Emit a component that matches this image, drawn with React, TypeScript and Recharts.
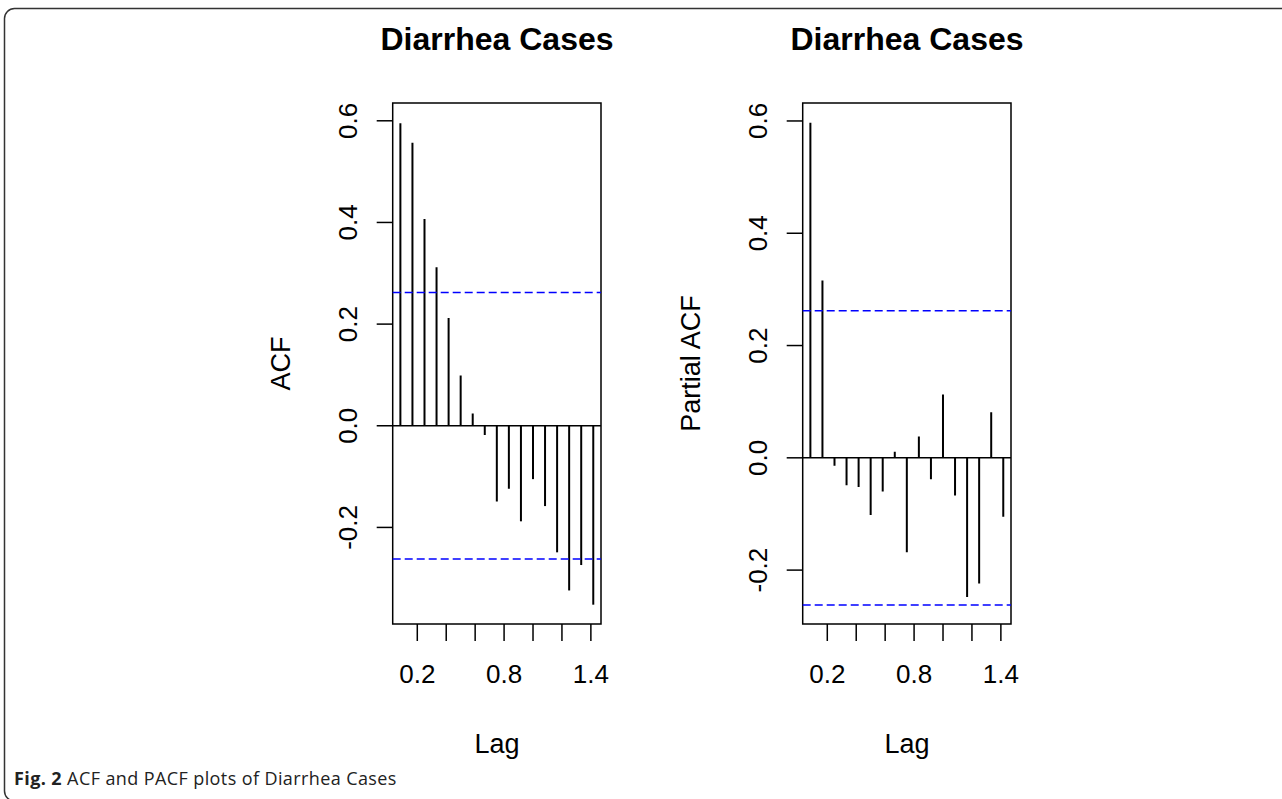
import React from 'react';
import { ComposedChart, Bar, XAxis, YAxis, ReferenceLine, ReferenceArea } from 'recharts';

// Lags in years (monthly series, lag k = k/12)
const lags = [0.0833, 0.1667, 0.25, 0.3333, 0.4167, 0.5, 0.5833, 0.6667, 0.75, 0.8333, 0.9167, 1.0, 1.0833, 1.1667, 1.25, 1.3333, 1.4167];
const acfValues = [0.595, 0.557, 0.407, 0.312, 0.212, 0.099, 0.024, -0.018, -0.149, -0.124, -0.188, -0.105, -0.158, -0.249, -0.324, -0.274, -0.352];
const pacfValues = [0.597, 0.316, -0.014, -0.049, -0.052, -0.102, -0.06, 0.011, -0.168, 0.038, -0.038, 0.113, -0.067, -0.248, -0.224, 0.081, -0.105];
const confLimit = 0.262;

const xTicks = [0.2, 0.4, 0.6, 0.8, 1.0, 1.2, 1.4];
const xTickLabels = ['0.2', '', '', '0.8', '', '', '1.4'];
const yTicks = [-0.2, 0, 0.2, 0.4, 0.6];
const yTickLabels = ['-0.2', '0.0', '0.2', '0.4', '0.6'];

const xDomain: [number, number] = [0.03, 1.47];
const acfDomain: [number, number] = [-0.39, 0.635];
const pacfDomain: [number, number] = [-0.296, 0.632];

const plotTitle = 'Diarrhea Cases';
const xTitle = 'Lag';
const acfTitle = 'ACF';
const pacfTitle = 'Partial ACF';
const captionBold = 'Fig. 2';
const captionText = ' ACF and PACF plots of Diarrhea Cases';

const FONT = "'Liberation Sans', Arial, Helvetica, sans-serif";

function findLabel(ticks: number[], labels: string[], v: number) {
  let best = -1;
  let bd = Infinity;
  ticks.forEach((t, i) => {
    const d = Math.abs(t - v);
    if (d < bd) { bd = d; best = i; }
  });
  return bd < 1e-6 ? labels[best] : '';
}

const XTick = (props: any) => {
  const { x, y, payload } = props;
  return (
    <text x={x} y={y} textAnchor="middle" fontSize={26} fontFamily={FONT} fill="#000">
      {findLabel(xTicks, xTickLabels, payload.value)}
    </text>
  );
};

const YTick = (props: any) => {
  const { x, y, payload } = props;
  return (
    <text x={x} y={y} transform={`rotate(-90 ${x} ${y})`} textAnchor="middle" fontSize={26} fontFamily={FONT} fill="#000">
      {findLabel(yTicks, yTickLabels, payload.value)}
    </text>
  );
};

function CorrPlot({ values, domain, left }: { values: number[]; domain: [number, number]; left: number }) {
  const data = lags.map((lag, i) => ({ lag, value: values[i] }));
  return (
    <div style={{ position: 'absolute', left, top: 90 }}>
      <ComposedChart width={320} height={600} data={data} margin={{ top: 13, right: 19, bottom: 0, left: 0 }}>
        <XAxis
          type="number"
          dataKey="lag"
          domain={xDomain}
          ticks={xTicks}
          allowDataOverflow
          interval={0}
          axisLine={false}
          tickLine={{ stroke: '#000', strokeWidth: 1.5 }}
          tickSize={17}
          tickMargin={42}
          height={66}
          tick={<XTick />}
        />
        <YAxis
          type="number"
          domain={domain}
          ticks={yTicks}
          allowDataOverflow
          interval={0}
          width={92.7}
          axisLine={false}
          tickLine={{ stroke: '#000', strokeWidth: 1.5 }}
          tickSize={16}
          tickMargin={20}
          tick={<YTick />}
        />
        <ReferenceArea
          x1={xDomain[0]}
          x2={xDomain[1]}
          y1={domain[0]}
          y2={domain[1]}
          fill="none"
          fillOpacity={0}
          stroke="#000"
          strokeWidth={1.5}
          ifOverflow="visible"
        />
        <ReferenceLine y={0} stroke="#000" strokeWidth={1.5} />
        <ReferenceLine y={confLimit} stroke="#0000ff" strokeWidth={1.5} strokeDasharray="8 4" />
        <ReferenceLine y={-confLimit} stroke="#0000ff" strokeWidth={1.5} strokeDasharray="8 4" />
        <Bar dataKey="value" fill="#000" barSize={2} isAnimationActive={false} />
      </ComposedChart>
    </div>
  );
}

export default function App() {
  return (
    <div style={{ position: 'absolute', left: 0, top: 0, width: 1282, height: 799, background: '#fff', overflow: 'hidden' }}>
      <CorrPlot values={acfValues} domain={acfDomain} left={300} />
      <CorrPlot values={pacfValues} domain={pacfDomain} left={710} />
      <svg width={1282} height={799} style={{ position: 'absolute', left: 0, top: 0, pointerEvents: 'none' }}>
        <rect x={4.5} y={8.5} width={1320} height={792.5} rx={10} ry={10} fill="none" stroke="#333" strokeWidth={1.5} />
        <text x={497} y={50} textAnchor="middle" fontSize={32} fontWeight="bold" fontFamily={FONT} fill="#000">{plotTitle}</text>
        <text x={907} y={50} textAnchor="middle" fontSize={32} fontWeight="bold" fontFamily={FONT} fill="#000">{plotTitle}</text>
        <text x={497} y={753} textAnchor="middle" fontSize={27} fontFamily={FONT} fill="#000">{xTitle}</text>
        <text x={907} y={753} textAnchor="middle" fontSize={27} fontFamily={FONT} fill="#000">{xTitle}</text>
        <text x={290} y={363.5} transform="rotate(-90 290 363.5)" textAnchor="middle" fontSize={27} fontFamily={FONT} fill="#000">{acfTitle}</text>
        <text x={700} y={363.5} transform="rotate(-90 700 363.5)" textAnchor="middle" fontSize={27} fontFamily={FONT} fill="#000">{pacfTitle}</text>
        <text x={14} y={785} fontSize={18} letterSpacing={0.4} fontFamily="'Open Sans', sans-serif" fill="#222">
          <tspan fontWeight="bold">{captionBold}</tspan>
          {captionText}
        </text>
      </svg>
    </div>
  );
}
